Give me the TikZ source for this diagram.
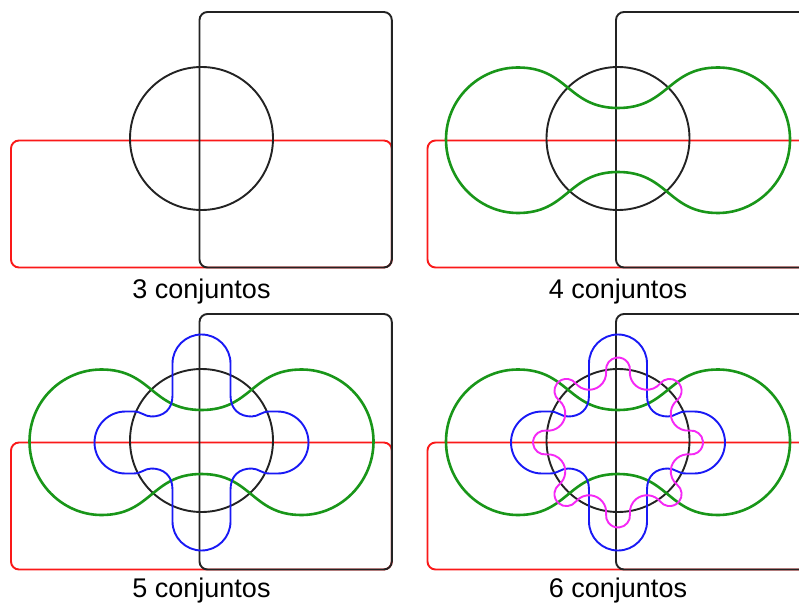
\documentclass[tikz,border=0pt]{standalone}
\usepackage{fontspec}
\setmainfont{Liberation Sans}
\definecolor{vblack}{RGB}{35,35,35}
\definecolor{vred}{RGB}{250,25,25}
\definecolor{vgreen}{RGB}{25,150,25}
\definecolor{vblue}{RGB}{25,25,245}
\definecolor{vmag}{RGB}{245,40,245}
\tikzset{
  blackline/.style={draw=vblack, line width=1.9pt},
  redline/.style={draw=vred, line width=1.9pt},
  greenline/.style={draw=vgreen, line width=2.6pt, line join=round},
  blueline/.style={draw=vblue, line width=1.9pt, line join=round},
  magline/.style={draw=vmag, line width=1.9pt, line join=round},
  lbl/.style={anchor=base, inner sep=0pt, font=\fontsize{27}{32}\selectfont},
  vennrects/.pic={
    \draw[redline, rounded corners=8pt] (-190.5,2) rectangle (190.3,129);
    \draw[blackline, rounded corners=8pt] (-2,-126.5) rectangle (190.3,129);
    \draw[blackline] (0,0) circle[radius=71.5];
  },
  venngreen/.pic={
    \draw[greenline] (-100,-72) .. controls (-50,-72) and (-50,-31.5) .. (0,-31.5)
      .. controls (50,-31.5) and (50,-72) .. (100,-72)
      .. controls (139.8,-72) and (172,-39.8) .. (172,0)
      .. controls (172,39.8) and (139.8,73.5) .. (100,73.5)
      .. controls (50,73.5) and (50,32.5) .. (0,32.5)
      .. controls (-50,32.5) and (-50,73.5) .. (-100,73.5)
      .. controls (-139.8,73.5) and (-172,39.8) .. (-172,0)
      .. controls (-172,-39.8) and (-139.8,-72) .. (-100,-72) -- cycle;
  },
  vennblue/.pic={
    \draw[blueline] (0,-108) .. controls (-16,-108) and (-29,-95) .. (-29,-79)
      -- (-29,-47)
      .. controls (-29,-33) and (-38,-26) .. (-50,-26)
      .. controls (-57,-26) and (-60,-31) .. (-68,-31)
      -- (-76,-31)
      .. controls (-93.1,-31) and (-107,-17.1) .. (-107,0)
      .. controls (-107,17.1) and (-93.1,31) .. (-76,31)
      -- (-68,31)
      .. controls (-60,31) and (-57,26) .. (-50,26)
      .. controls (-38,26) and (-29,33) .. (-29,47)
      -- (-29,79)
      .. controls (-29,95) and (-16,108) .. (0,108)
      .. controls (16,108) and (29,95) .. (29,79)
      -- (29,47)
      .. controls (29,33) and (38,26) .. (50,26)
      .. controls (57,26) and (60,31) .. (68,31)
      -- (76,31)
      .. controls (93.1,31) and (107,17.1) .. (107,0)
      .. controls (107,-17.1) and (93.1,-31) .. (76,-31)
      -- (68,-31)
      .. controls (60,-31) and (57,-26) .. (50,-26)
      .. controls (38,-26) and (29,-33) .. (29,-47)
      -- (29,-79)
      .. controls (29,-95) and (16,-108) .. (0,-108) -- cycle;
  },
  vennmag/.pic={
    \draw[magline] (71.70,-11.93)
      \foreach \k in {0,...,7} {
        arc[start angle={45*\k-96.2}, end angle={45*\k+96.2}, radius=12]
        arc[start angle={45*\k+276.2}, end angle={45*\k+128.8}, radius=17.1]
      } -- cycle;
  }
}
\begin{document}
\begin{tikzpicture}[x=1pt, y=-1pt]
  \useasboundingbox (0,0) rectangle (799,604);
  \clip (0,0) rectangle (799,604);
  \fill[white] (0,0) rectangle (799,604);
  % panel 1
  \pic (p1r) at (201.5,138.5) {vennrects};
  % panel 2
  \pic (p2r) at (618,138.5) {vennrects};
  \pic (p2g) at (618,139.5) {venngreen};
  % panel 3
  \pic (p3r) at (201.5,440.5) {vennrects};
  \pic (p3g) at (201.5,441.5) {venngreen};
  \pic (p3b) at (201.5,442.5) {vennblue};
  % panel 4
  \pic (p4r) at (618,440.5) {vennrects};
  \pic (p4g) at (618,441.5) {venngreen};
  \pic (p4b) at (618,442.5) {vennblue};
  \pic (p4m) at (618,442.5) {vennmag};
  % labels
  \node[lbl] (lab3) at (201.5,298.3) {3 conjuntos};
  \node[lbl] (lab4) at (618,298.3) {4 conjuntos};
  \node[lbl] (lab5) at (201.5,597.6) {5 conjuntos};
  \node[lbl] (lab6) at (618,597.6) {6 conjuntos};
\end{tikzpicture}
\end{document}
